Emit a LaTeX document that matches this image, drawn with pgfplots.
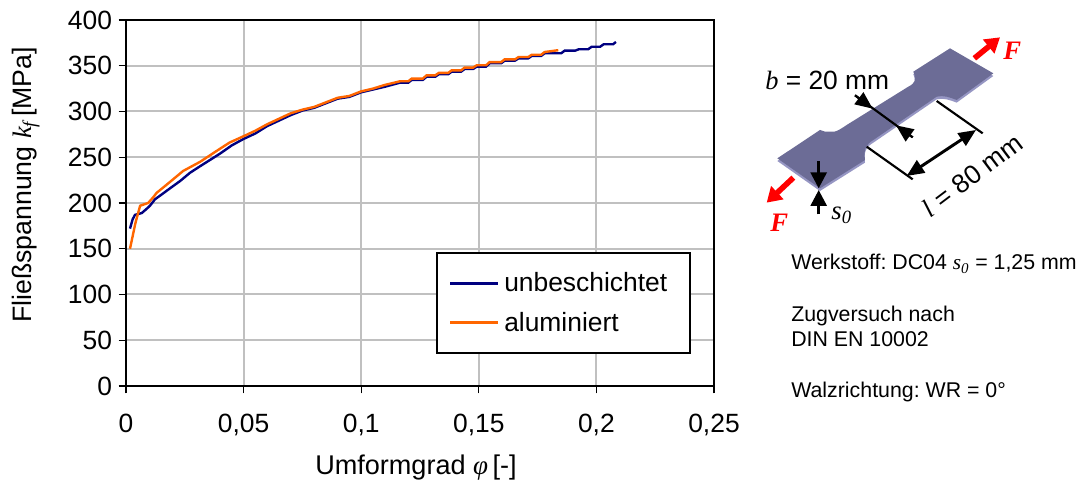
\documentclass[border=0pt]{standalone}
\usepackage{pgfplots}
\pgfplotsset{compat=1.18}
\usepackage{fontspec}
\setmainfont{Liberation Sans}
\newfontfamily\ser{Liberation Serif}
\usetikzlibrary{arrows.meta}
\definecolor{blueline}{RGB}{0,0,128}
\definecolor{orangeline}{RGB}{255,102,0}
\definecolor{gridg}{RGB}{192,192,192}
\definecolor{spec}{RGB}{108,108,150}
\definecolor{specedge}{RGB}{150,150,195}
\frenchspacing
\begin{document}
\begin{tikzpicture}[x=0.75pt,y=0.75pt]
\path[use as bounding box] (0,0) rectangle (1081,484);
\begin{axis}[
  at={(126*0.75pt,98*0.75pt)},anchor=south west,
  scale only axis,width=441pt,height=274.5pt,
  xmin=0,xmax=0.25,ymin=0,ymax=400,
  xtick={0,0.05,0.1,0.15,0.2,0.25},
  xticklabels={0,{0,05},{0,1},{0,15},{0,2},{0,25}},
  ytick={0,50,100,150,200,250,300,350,400},
  /pgf/number format/assume math mode=true,
  tick label style={font=\fontsize{19.8}{22}\selectfont},
  xticklabel style={yshift=-12pt},
  yticklabel style={xshift=-1.5pt},
  xtick pos=bottom,ytick pos=left,
  grid=major,
  grid style={gridg,line width=1.5pt},
  axis line style={black,line width=1.5pt,-},
  tick style={black,line width=1pt},
  tick align=outside,major tick length=5.5pt,
  legend style={at={(0.527,0.087)},anchor=south west,draw=black,line width=1.5pt,
    font=\fontsize{19.8}{23}\selectfont,inner xsep=9pt,inner ysep=13pt,
    row sep=9.6pt,cells={anchor=west},
    nodes={inner xsep=3.75pt,inner ysep=2pt}},
  legend cell align=left,
  legend image code/.code={\draw[#1,line width=1.8pt] (0pt,0pt)--(36pt,0pt);},
  clip=false,
]
\addplot[blueline,line width=1.8pt] coordinates {
(0.0017,172)(0.0028,182)(0.0038,187)(0.0052,188)(0.0067,189)(0.0085,193)(0.0102,197)(0.0123,204)(0.0150,209)(0.0187,216)(0.0230,224)(0.0272,233)(0.0320,241)(0.0357,247)(0.0400,254)(0.0450,263)(0.0500,270)(0.0550,276)(0.0600,284)(0.0650,290)(0.0700,296)(0.0750,301)(0.0800,304)(0.0850,309)(0.0900,314)(0.0950,316)(0.1000,321)(0.1050,324)(0.1100,327)(0.1165,331.5)
(0.1200,331.5)(0.1215,334.5)(0.1262,334.5)(0.1278,338)(0.1315,338)(0.1330,340.7)(0.1370,340.7)(0.1385,343.6)(0.1425,343.6)(0.1440,346.5)(0.1476,346.5)(0.1491,349)(0.1531,349)(0.1546,352.7)(0.1595,352.7)(0.1610,355.6)(0.1654,355.6)(0.1669,358)(0.1710,358)(0.1725,360.7)(0.1765,360.7)(0.1780,363.6)(0.1850,363.6)(0.1865,366.5)(0.1910,366.5)(0.1925,368)(0.1965,368)(0.1980,370.8)(0.2016,370.8)(0.2031,373.5)(0.2071,373.5)(0.2083,376)};
\addlegendentry{unbeschichtet\rule{4.5pt}{0pt}}
\addplot[orangeline,line width=1.8pt] coordinates {
(0.0017,150)(0.0040,178)(0.0060,197)(0.0094,200)(0.0115,206)(0.0130,211)(0.0187,223)(0.0243,235)(0.0315,245)(0.0386,257)(0.0440,266)(0.0500,273)(0.0550,279)(0.0600,286)(0.0650,292)(0.0700,298)(0.0750,302)(0.0800,305)(0.0850,310)(0.0900,315)(0.0950,317)(0.1000,322)(0.1050,325)(0.1100,329)(0.1165,333)
(0.1200,333)(0.1215,336)(0.1262,336)(0.1278,339.5)(0.1315,339.5)(0.1330,342.2)(0.1370,342.2)(0.1385,345)(0.1425,345)(0.1440,348)(0.1476,348)(0.1491,350.5)(0.1531,350.5)(0.1546,354)(0.1595,354)(0.1610,357)(0.1654,357)(0.1669,359.5)(0.1710,359.5)(0.1725,362)(0.1765,362)(0.1780,365)(0.1838,367)};
\addlegendentry{aluminiert}
\end{axis}
\draw[black,line width=2pt] (126,98)--(714,98);
\node[rotate=90,font=\fontsize{20}{22}\selectfont] at (26,484-185) {Fließspannung {\ser\itshape k\textsubscript{f}}\,[MPa]};
\node[font=\fontsize{20.3}{22}\selectfont] at (416,484-468) {Umformgrad {\ser\itshape φ}\,[-]};
\begin{scope}[shift={(740,464)},x=0.25pt,y=-0.25pt]
 \def\outline{(112,415)--(240,330)--(255,335)--(283,335) .. controls (295,332) and (305,325) .. (320,315)--(505,200) .. controls (525,190) and (530,180) .. (520,155)--(630,85)--(760,160)--(650,240) .. controls (630,232) and (610,225) .. (590,230)--(400,360) .. controls (380,372) and (370,385) .. (375,420)--(240,505)--cycle}
 \fill[specedge,yshift=-2pt] \outline;
 \fill[spec] \outline;
 \draw[black,line width=1.6pt] (380,380)--(518,478);
 \draw[black,line width=1.6pt] (590,243)--(728,340);
 \draw[black,line width=1.6pt] (345,226)--(518,352);
 \draw[black,line width=2.2pt,{Triangle[width=11pt,length=13pt]}-{Triangle[width=11pt,length=13pt]}] (500,468)--(708,330);
 \draw[black,line width=1.6pt,-{Triangle[width=11pt,length=13pt]}] (345,226)--(398,266);
 \draw[black,line width=1.6pt,-{Triangle[width=11pt,length=13pt]}] (518,352)--(468,316);
 \draw[black,line width=2.2pt,-{Triangle[width=12pt,length=12pt]}] (236,424)--(236,505);
 \draw[black,line width=2.2pt,-{Triangle[width=12pt,length=12pt]}] (236,583)--(236,510);
 \draw[red,line width=4.2pt,-{Triangle[width=13pt,length=11pt]}] (703,115)--(780,52);
 \draw[red,line width=4.2pt,-{Triangle[width=13pt,length=11pt]}] (160,473)--(80,548);
 \node[red,font=\ser\bfseries\itshape\fontsize{20}{22}\selectfont] at (817,92) {F};
 \node[red,font=\ser\bfseries\itshape\fontsize{20}{22}\selectfont] at (118,607) {F};
 \node[black,font=\ser\itshape\fontsize{20}{22}\selectfont] at (305,585) {s\textsubscript{0}};
 \node[black,anchor=base west,inner sep=0,font=\fontsize{19.8}{22}\selectfont] at (75,208) {{\ser\itshape b} = 20 mm};
 \node[black,rotate=37,font=\fontsize{19.8}{22}\selectfont] at (697,466) {{\ser\itshape l} = 80 mm};
\end{scope}
\node[anchor=base west,inner sep=0,font=\fontsize{16}{18}\selectfont] at (791,484-270) {Werkstoff: DC04 {\ser\itshape s\textsubscript{0}} = 1,25 mm};
\node[anchor=base west,inner sep=0,font=\fontsize{16}{18}\selectfont] at (791,484-322) {Zugversuch nach};
\node[anchor=base west,inner sep=0,font=\fontsize{16}{18}\selectfont] at (791,484-347) {DIN EN 10002};
\node[anchor=base west,inner sep=0,font=\fontsize{16}{18}\selectfont] at (791,484-398) {Walzrichtung: WR = 0°};
\end{tikzpicture}
\end{document}
